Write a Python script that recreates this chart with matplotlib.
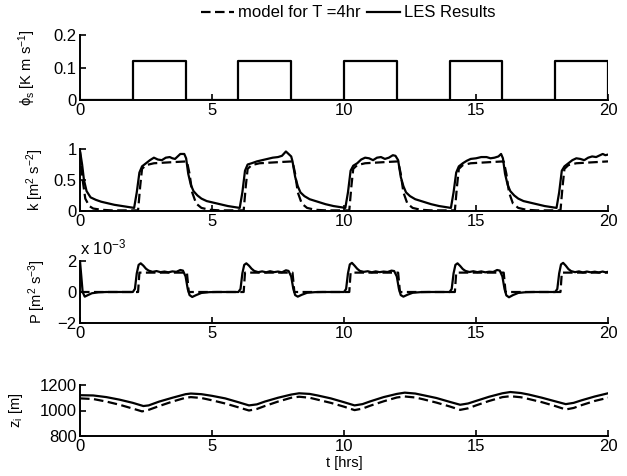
import matplotlib
matplotlib.use('Agg')
import matplotlib.pyplot as plt

plt.rcParams['font.family'] = ['Liberation Sans', 'DejaVu Sans']
plt.rcParams['mathtext.fontset'] = 'custom'
plt.rcParams['mathtext.rm'] = 'Liberation Sans'
plt.rcParams['mathtext.it'] = 'Liberation Sans:italic'
plt.rcParams['mathtext.default'] = 'regular'

# surface heat flux, switched on/off every 2 hours (step, post)
flux_t = [0, 2, 4, 6, 8, 10, 12, 14, 16, 18, 20]
flux = [0, 0.12, 0, 0.12, 0, 0.12, 0, 0.12, 0, 0.12, 0]

# TKE, LES (t [hrs], k)
k_les = [(0.00, 0.97), (0.08, 0.75), (0.15, 0.50), (0.25, 0.32), (0.40, 0.22), (0.60, 0.18),
         (0.80, 0.15), (1.00, 0.13), (1.30, 0.10), (1.60, 0.08), (1.90, 0.06), (2.05, 0.05),
         (2.15, 0.30), (2.25, 0.62), (2.35, 0.72), (2.50, 0.77), (2.65, 0.82), (2.80, 0.86),
         (2.95, 0.83), (3.10, 0.82), (3.25, 0.86), (3.40, 0.87), (3.50, 0.85), (3.60, 0.84),
         (3.70, 0.88), (3.80, 0.92), (3.95, 0.92), (4.02, 0.85),
         (4.10, 0.60), (4.20, 0.42), (4.30, 0.32), (4.45, 0.25), (4.60, 0.20), (4.80, 0.16),
         (5.00, 0.14), (5.30, 0.11), (5.60, 0.08), (5.90, 0.06), (6.05, 0.05),
         (6.15, 0.30), (6.25, 0.65), (6.35, 0.75), (6.50, 0.77), (6.70, 0.80), (6.90, 0.82),
         (7.10, 0.84), (7.30, 0.86), (7.50, 0.87), (7.65, 0.89), (7.80, 0.96), (7.90, 0.92),
         (8.00, 0.88), (8.05, 0.80),
         (8.15, 0.55), (8.25, 0.40), (8.35, 0.30), (8.50, 0.24), (8.70, 0.19), (9.00, 0.15),
         (9.30, 0.11), (9.60, 0.08), (9.90, 0.06), (10.05, 0.05),
         (10.15, 0.30), (10.25, 0.65), (10.35, 0.73), (10.50, 0.77), (10.65, 0.83), (10.80, 0.86),
         (10.95, 0.85), (11.10, 0.82), (11.25, 0.86), (11.40, 0.87), (11.55, 0.84), (11.70, 0.86),
         (11.85, 0.90), (11.95, 0.89), (12.05, 0.82),
         (12.15, 0.55), (12.25, 0.40), (12.35, 0.30), (12.50, 0.24), (12.70, 0.19), (13.00, 0.15),
         (13.30, 0.11), (13.60, 0.08), (13.90, 0.06), (14.05, 0.05),
         (14.15, 0.30), (14.25, 0.62), (14.35, 0.72), (14.50, 0.77), (14.65, 0.81), (14.80, 0.84),
         (15.00, 0.85), (15.20, 0.87), (15.40, 0.87), (15.55, 0.85), (15.70, 0.86), (15.85, 0.88),
         (15.95, 0.92), (16.02, 0.85),
         (16.10, 0.60), (16.20, 0.42), (16.30, 0.32), (16.45, 0.25), (16.60, 0.20), (16.80, 0.16),
         (17.00, 0.14), (17.30, 0.11), (17.60, 0.08), (17.90, 0.06), (18.05, 0.05),
         (18.15, 0.30), (18.25, 0.65), (18.35, 0.72), (18.50, 0.77), (18.65, 0.82), (18.80, 0.85),
         (18.95, 0.84), (19.10, 0.82), (19.25, 0.86), (19.40, 0.88), (19.55, 0.87), (19.70, 0.90),
         (19.80, 0.92), (19.90, 0.90), (20.00, 0.91)]

# TKE, model
k_mod = [(0.00, 0.95), (0.10, 0.50), (0.20, 0.20), (0.35, 0.08), (0.50, 0.04), (0.80, 0.02),
         (1.20, 0.01), (2.20, 0.01), (2.28, 0.40), (2.35, 0.68), (2.50, 0.74), (2.80, 0.77),
         (3.20, 0.78), (3.60, 0.79), (4.05, 0.80), (4.15, 0.60), (4.25, 0.30), (4.40, 0.12),
         (4.60, 0.05), (4.90, 0.02), (5.30, 0.01), (6.20, 0.01), (6.28, 0.40), (6.35, 0.68),
         (6.50, 0.74), (6.80, 0.77), (7.20, 0.78), (7.60, 0.79), (8.05, 0.80), (8.15, 0.60),
         (8.25, 0.30), (8.40, 0.12), (8.60, 0.05), (8.90, 0.02), (9.30, 0.01), (10.20, 0.01),
         (10.28, 0.40), (10.35, 0.68), (10.50, 0.74), (10.80, 0.77), (11.20, 0.78), (11.60, 0.79),
         (12.05, 0.80), (12.15, 0.60), (12.25, 0.30), (12.40, 0.12), (12.60, 0.05), (12.90, 0.02),
         (13.30, 0.01), (14.20, 0.01), (14.28, 0.40), (14.35, 0.68), (14.50, 0.74), (14.80, 0.77),
         (15.20, 0.78), (15.60, 0.79), (16.05, 0.80), (16.15, 0.60), (16.25, 0.30), (16.40, 0.12),
         (16.60, 0.05), (16.90, 0.02), (17.30, 0.01), (18.20, 0.01), (18.28, 0.40), (18.35, 0.68),
         (18.50, 0.74), (18.80, 0.77), (19.20, 0.78), (19.60, 0.79), (20.00, 0.80)]

# shear/buoyancy production, LES, in units of 1e-3
p_les = [(0.00, 2.00), (0.05, 1.00), (0.10, 0.00), (0.18, -0.30), (0.30, -0.20), (0.45, -0.08),
         (0.70, -0.02), (1.00, 0.00), (2.00, 0.00), (2.08, 0.20), (2.15, 1.20), (2.22, 1.75),
         (2.30, 1.85), (2.40, 1.70), (2.50, 1.50), (2.60, 1.38), (2.75, 1.30), (2.90, 1.35),
         (3.05, 1.28), (3.20, 1.32), (3.35, 1.27), (3.50, 1.33), (3.65, 1.30), (3.80, 1.42),
         (3.90, 1.38), (4.00, 1.00), (4.08, 0.20), (4.15, -0.20), (4.25, -0.32), (4.40, -0.20),
         (4.60, -0.06), (4.90, -0.01), (5.20, 0.00), (6.00, 0.00), (6.08, 0.20), (6.15, 1.20),
         (6.22, 1.75), (6.30, 1.85), (6.40, 1.70), (6.50, 1.50), (6.60, 1.36), (6.75, 1.28),
         (6.90, 1.33), (7.05, 1.27), (7.20, 1.34), (7.35, 1.28), (7.50, 1.32), (7.65, 1.27),
         (7.80, 1.40), (7.90, 1.36), (8.00, 1.00), (8.08, 0.20), (8.15, -0.20), (8.25, -0.30),
         (8.40, -0.18), (8.60, -0.05), (8.90, -0.01), (9.20, 0.00), (10.00, 0.00), (10.08, 0.20),
         (10.15, 1.20), (10.22, 1.78), (10.30, 1.88), (10.40, 1.70), (10.50, 1.50), (10.60, 1.36),
         (10.75, 1.30), (10.90, 1.34), (11.05, 1.27), (11.20, 1.33), (11.35, 1.28), (11.50, 1.32),
         (11.65, 1.29), (11.80, 1.38), (11.90, 1.35), (12.00, 1.00), (12.08, 0.20), (12.15, -0.20),
         (12.25, -0.30), (12.40, -0.18), (12.60, -0.05), (12.90, -0.01), (13.20, 0.00),
         (14.00, 0.00), (14.08, 0.20), (14.15, 1.20), (14.22, 1.75), (14.30, 1.85), (14.40, 1.68),
         (14.50, 1.48), (14.60, 1.36), (14.75, 1.29), (14.90, 1.34), (15.05, 1.28), (15.20, 1.33),
         (15.35, 1.27), (15.50, 1.31), (15.65, 1.29), (15.80, 1.42), (15.90, 1.38), (16.00, 1.00),
         (16.08, 0.20), (16.15, -0.22), (16.25, -0.34), (16.40, -0.20), (16.60, -0.06),
         (16.90, -0.01), (17.20, 0.00), (18.00, 0.00), (18.08, 0.20), (18.15, 1.20), (18.22, 1.78),
         (18.30, 1.88), (18.40, 1.70), (18.50, 1.48), (18.60, 1.35), (18.75, 1.28), (18.90, 1.33),
         (19.05, 1.26), (19.20, 1.32), (19.35, 1.27), (19.50, 1.31), (19.65, 1.26), (19.80, 1.32),
         (19.90, 1.27), (20.00, 1.30)]

# production, model (1e-3)
p_mod = [(0.00, 0.00), (2.20, 0.00), (2.25, 1.25), (4.05, 1.25), (4.12, 0.00), (6.20, 0.00),
         (6.25, 1.25), (8.05, 1.25), (8.12, 0.00), (10.20, 0.00), (10.25, 1.25), (12.05, 1.25),
         (12.12, 0.00), (14.20, 0.00), (14.25, 1.25), (16.05, 1.25), (16.12, 0.00), (18.20, 0.00),
         (18.25, 1.25), (20.00, 1.25)]

# boundary layer depth [m]
zi_les = [(0.0, 1120), (0.5, 1118), (1.0, 1105), (1.5, 1085), (2.0, 1060), (2.4, 1035),
          (2.6, 1040), (3.0, 1070), (3.5, 1100), (4.0, 1128), (4.2, 1133), (4.6, 1128),
          (5.0, 1115), (5.5, 1095), (6.0, 1065), (6.4, 1040), (6.7, 1048), (7.0, 1070),
          (7.5, 1100), (8.0, 1125), (8.3, 1135), (8.7, 1130), (9.0, 1118), (9.5, 1095),
          (10.0, 1065), (10.4, 1040), (10.7, 1050), (11.0, 1072), (11.5, 1105), (12.0, 1130),
          (12.3, 1140), (12.7, 1133), (13.0, 1120), (13.5, 1098), (14.0, 1068), (14.4, 1045),
          (14.7, 1055), (15.0, 1075), (15.5, 1108), (16.0, 1135), (16.3, 1145), (16.7, 1137),
          (17.0, 1125), (17.5, 1100), (18.0, 1072), (18.4, 1050), (18.7, 1060), (19.0, 1080),
          (19.5, 1110), (20.0, 1135)]

zi_mod = [(0.0, 1095), (0.5, 1090), (1.0, 1070), (1.5, 1045), (2.0, 1015), (2.35, 993),
          (2.6, 1005), (3.0, 1035), (3.5, 1070), (4.0, 1100), (4.2, 1105), (4.6, 1098),
          (5.0, 1080), (5.5, 1055), (6.0, 1025), (6.4, 1000), (6.7, 1012), (7.0, 1035),
          (7.5, 1070), (8.0, 1100), (8.3, 1108), (8.7, 1100), (9.0, 1085), (9.5, 1060),
          (10.0, 1030), (10.4, 1003), (10.7, 1015), (11.0, 1038), (11.5, 1072), (12.0, 1102),
          (12.3, 1110), (12.7, 1102), (13.0, 1088), (13.5, 1062), (14.0, 1032), (14.4, 1005),
          (14.7, 1017), (15.0, 1040), (15.5, 1075), (16.0, 1105), (16.3, 1112), (16.7, 1104),
          (17.0, 1090), (17.5, 1065), (18.0, 1035), (18.4, 1008), (18.7, 1020), (19.0, 1042),
          (19.5, 1075), (20.0, 1100)]

x_ticks = [0, 5, 10, 15, 20]
y_ticks = [[0, 0.1, 0.2], [0, 0.5, 1], [-2, 0, 2], [800, 1000, 1200]]
y_ticklabels = [['0', '0.1', '0.2'], ['0', '0.5', '1'], ['\u22122', '0', '2'], ['800', '1000', '1200']]
y_limits = [(0, 0.2), (0, 1), (-2, 2), (800, 1200)]
y_labels = ['\u03d5$_s$ [K m s$^{-1}$]', 'k [m$^2$ s$^{-2}$]', 'P [m$^2$ s$^{-3}$]', 'z$_i$ [m]']
label_x = [-0.080, -0.064, -0.060, -0.104]

W, H = 627, 476
fig = plt.figure(figsize=(W / 100, H / 100), dpi=100)

# panel extents in pixels (top, bottom)
rows = [(35, 100), (149, 211), (261, 323), (385, 436)]
axes = [fig.add_axes([80 / W, 1 - b / H, 528 / W, (b - t) / H]) for t, b in rows]

dash = (0, (4.3, 2.0))
lw = 1.6

ax = axes[0]
ax.step(flux_t, flux, where='post', color='black', lw=lw)

ax = axes[1]
t, v = zip(*k_mod)
h_mod, = ax.plot(t, v, color='black', lw=lw, linestyle=dash)
t, v = zip(*k_les)
h_les, = ax.plot(t, v, color='black', lw=lw)

ax = axes[2]
t, v = zip(*p_mod)
ax.plot(t, v, color='black', lw=lw, linestyle=dash)
t, v = zip(*p_les)
ax.plot(t, v, color='black', lw=lw)
ax.text(0.0, 1.06, 'x 10$^{-3}$', transform=ax.transAxes, fontsize=12, ha='left', va='bottom')

ax = axes[3]
t, v = zip(*zi_mod)
ax.plot(t, v, color='black', lw=lw, linestyle=dash)
t, v = zip(*zi_les)
ax.plot(t, v, color='black', lw=lw)
ax.set_xlabel('t [hrs]', fontsize=10.5, labelpad=1)

for i, ax in enumerate(axes):
    ax.set_xlim(0, 20)
    ax.set_ylim(*y_limits[i])
    ax.set_xticks(x_ticks)
    ax.set_xticklabels([str(x) for x in x_ticks])
    ax.set_yticks(y_ticks[i])
    ax.set_yticklabels(y_ticklabels[i])
    ax.spines['top'].set_visible(False)
    ax.spines['right'].set_visible(False)
    ax.spines['left'].set_linewidth(1.4)
    ax.spines['bottom'].set_linewidth(1.4)
    ax.tick_params(direction='in', length=4, width=1.2, labelsize=12, pad=2.5)
    ax.set_ylabel(y_labels[i], fontsize=10.5)
    ax.yaxis.set_label_coords(label_x[i], 0.5)

fig.legend([h_mod, h_les], ['model for T =4hr', 'LES Results'], loc='center',
           bbox_to_anchor=(0.555, 0.973), ncol=2, frameon=False, fontsize=12,
           handlelength=2.0, handletextpad=0.2, columnspacing=0.4)

fig.savefig('out.png', dpi=100)
